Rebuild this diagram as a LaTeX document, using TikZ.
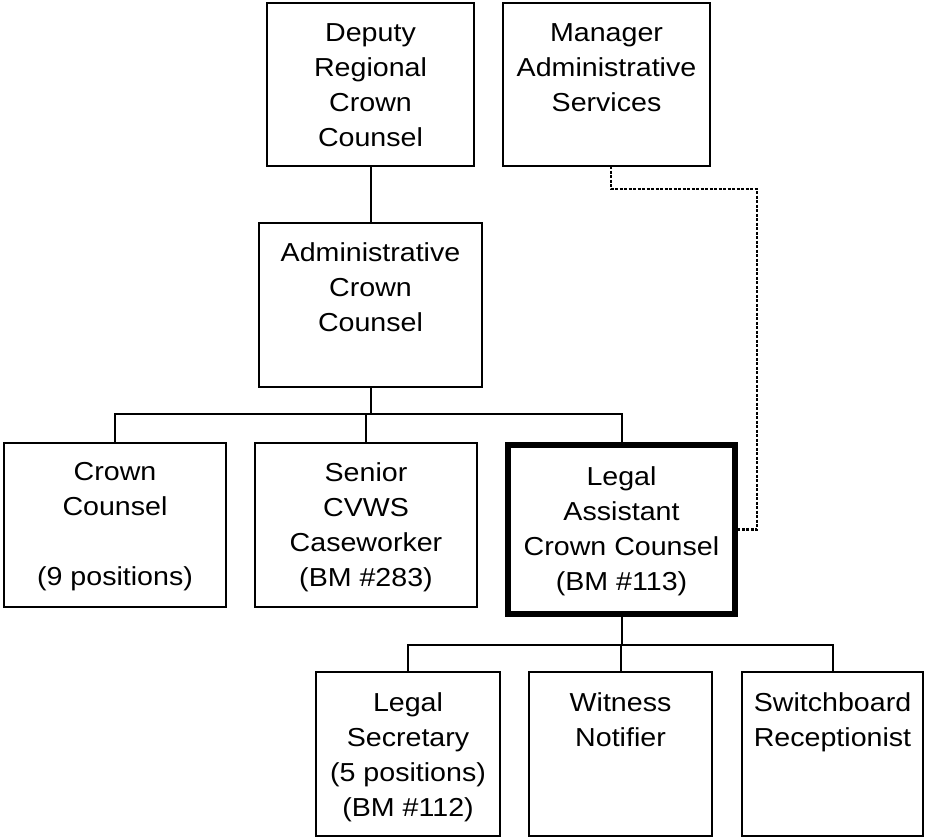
\documentclass[tikz,border=0pt]{standalone}
\usepackage{fontspec}
\newfontfamily\orgfont[FakeStretch=1.1]{Liberation Sans}
\begin{document}
\begin{tikzpicture}[x=1pt,y=-1pt,
  box/.style={draw=black, line width=2.6pt, rectangle, inner sep=0pt, outer sep=0pt, fill=white},
  bigbox/.style={box, line width=6.5pt},
  txt/.style={anchor=north, align=center, inner sep=0pt, font=\orgfont\fontsize{26}{35}\selectfont},
  conn/.style={draw=black, line width=2pt},
  dotline/.style={draw=black, line width=2.5pt, dash pattern=on 3pt off 1.5pt}]
\useasboundingbox (0,0) rectangle (925,838);
\fill[white] (0,0) rectangle (925,838);

% boxes
\node[box, minimum width=207pt, minimum height=163pt] (dep) at (370.5,84.5) {};
\node[box, minimum width=207pt, minimum height=163pt] (mgr) at (606.5,84.5) {};
\node[box, minimum width=223pt, minimum height=164pt] (adm) at (370.5,305) {};
\node[box, minimum width=222pt, minimum height=164pt] (cc) at (115,525) {};
\node[box, minimum width=222pt, minimum height=164pt] (sen) at (366,525) {};
\node[bigbox, minimum width=227pt, minimum height=169pt] (lac) at (621.5,529.5) {};
\node[box, minimum width=184pt, minimum height=164pt] (ls) at (408,754) {};
\node[box, minimum width=183pt, minimum height=164pt] (wn) at (620.5,754) {};
\node[box, minimum width=181pt, minimum height=164pt] (sw) at (832.5,754) {};

% texts
\node[txt] (tdep) at (370.5,23) {Deputy\\Regional\\Crown\\Counsel};
\node[txt] (tmgr) at (606.5,23) {Manager\\Administrative\\Services};
\node[txt] (tadm) at (370.5,242) {Administrative\\Crown\\Counsel};
\node[txt] (tcc) at (115,462) {Crown\\Counsel\\\mbox{}\\(9 positions)};
\node[txt] (tsen) at (366,462) {Senior\\CVWS\\Caseworker\\(BM \#283)};
\node[txt] (tlac) at (621.5,466) {Legal\\Assistant\\Crown Counsel\\(BM \#113)};
\node[txt] (tls) at (408,692) {Legal\\Secretary\\(5 positions)\\(BM \#112)};
\node[txt] (twn) at (620.5,692) {Witness\\Notifier};
\node[txt] (tsw) at (832.5,692) {Switchboard\\Receptionist};

% connectors
\coordinate (j1) at (370.5,414);
\coordinate (j2) at (621.5,645);
\coordinate (d1) at (757,189);
\draw[conn] (dep.south) -- (adm.north);
\draw[conn] (adm.south) -- (j1);
\draw[conn] (cc.north) -- (cc.north |- j1) -- (lac.north |- j1) -- (lac.north);
\draw[conn] (sen.north) -- (sen.north |- j1);
\draw[conn] (lac.south) -- (j2);
\draw[conn] (ls.north) -- (ls.north |- j2) -- (sw.north |- j2) -- (sw.north);
\draw[conn] (wn.north) -- (wn.north |- j2);
\draw[dotline] ([xshift=4.5pt]mgr.south) |- (d1) |- (lac.east);
\end{tikzpicture}
\end{document}
